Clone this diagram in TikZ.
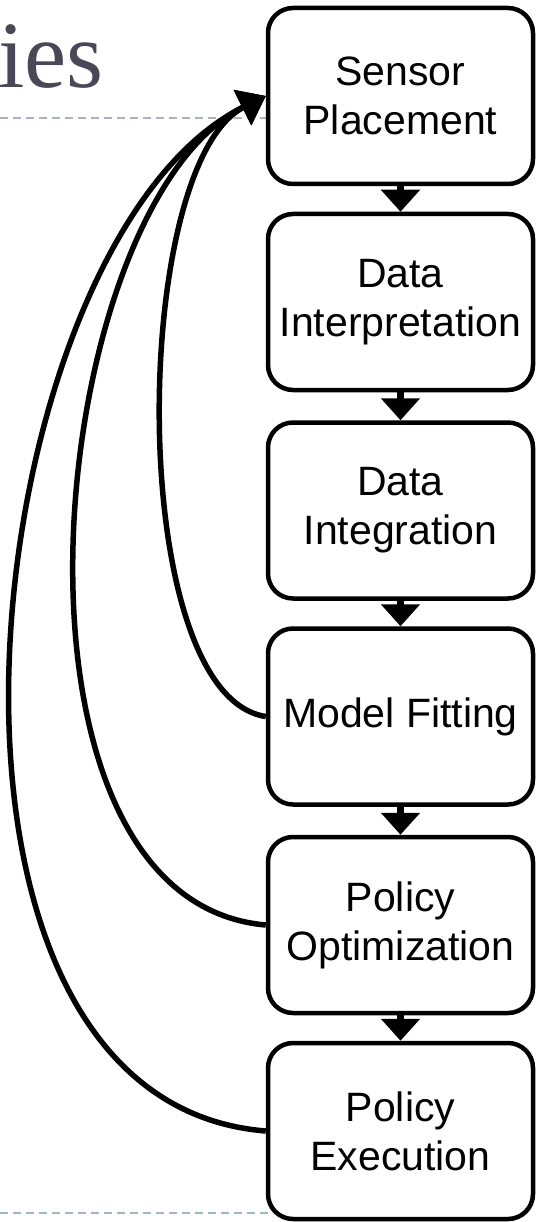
\documentclass[tikz,border=0pt]{standalone}
\usepackage{fontspec}
\setmainfont{Liberation Sans}
\newfontfamily\titlefont{Liberation Serif}
\usetikzlibrary{arrows.meta}
\definecolor{dashblue}{HTML}{A2B5C8}
\definecolor{titlegray}{HTML}{484857}
\begin{document}
\begin{tikzpicture}[x=1pt,y=-1pt,
  stagebox/.style={draw=black, line width=4.5pt, rounded corners=25pt,
    minimum width=265pt, minimum height=176pt, align=center, inner sep=2pt,
    font=\fontsize{41}{49}\selectfont},
  flowarrow/.style={line width=7pt, -{Triangle[length=22pt,width=38pt]}},
  loopback/.style={line width=5.5pt, -{Triangle[length=26pt,width=38pt]}},
  guide/.style={dashblue, line width=2pt, dash pattern=on 8pt off 5pt}]
\useasboundingbox (0,0) rectangle (538,1222);
\draw[guide] (0,118) -- (268,118);
\draw[guide] (0,1213) -- (268,1213);
\node[anchor=base west, inner sep=0pt, text=titlegray,
  font=\titlefont\fontsize{95}{100}\selectfont] (title) at (-2,88) {ies};
\node[stagebox] (s1) at (400.5,96) {Sensor\\Placement};
\node[stagebox] (s2) at (400.5,302) {Data\\Interpretation};
\node[stagebox] (s3) at (400.5,510.5) {Data\\Integration};
\node[stagebox] (s4) at (400.5,716.5) {Model Fitting};
\node[stagebox] (s5) at (400.5,925) {Policy\\Optimization};
\node[stagebox] (s6) at (400.5,1131) {Policy\\Execution};
\draw[flowarrow] (s1.south) -- (s2.north);
\draw[flowarrow] (s2.south) -- (s3.north);
\draw[flowarrow] (s3.south) -- (s4.north);
\draw[flowarrow] (s4.south) -- (s5.north);
\draw[flowarrow] (s5.south) -- (s6.north);
\draw[loopback] (s4.west) .. controls (125,695) and (130,165) .. (s1.west);
\draw[loopback] (s5.west) .. controls (-20,900) and (45,205) .. (s1.west);
\draw[loopback] (s6.west) .. controls (-120,1100) and (-25,240) .. (s1.west);
\end{tikzpicture}
\end{document}
